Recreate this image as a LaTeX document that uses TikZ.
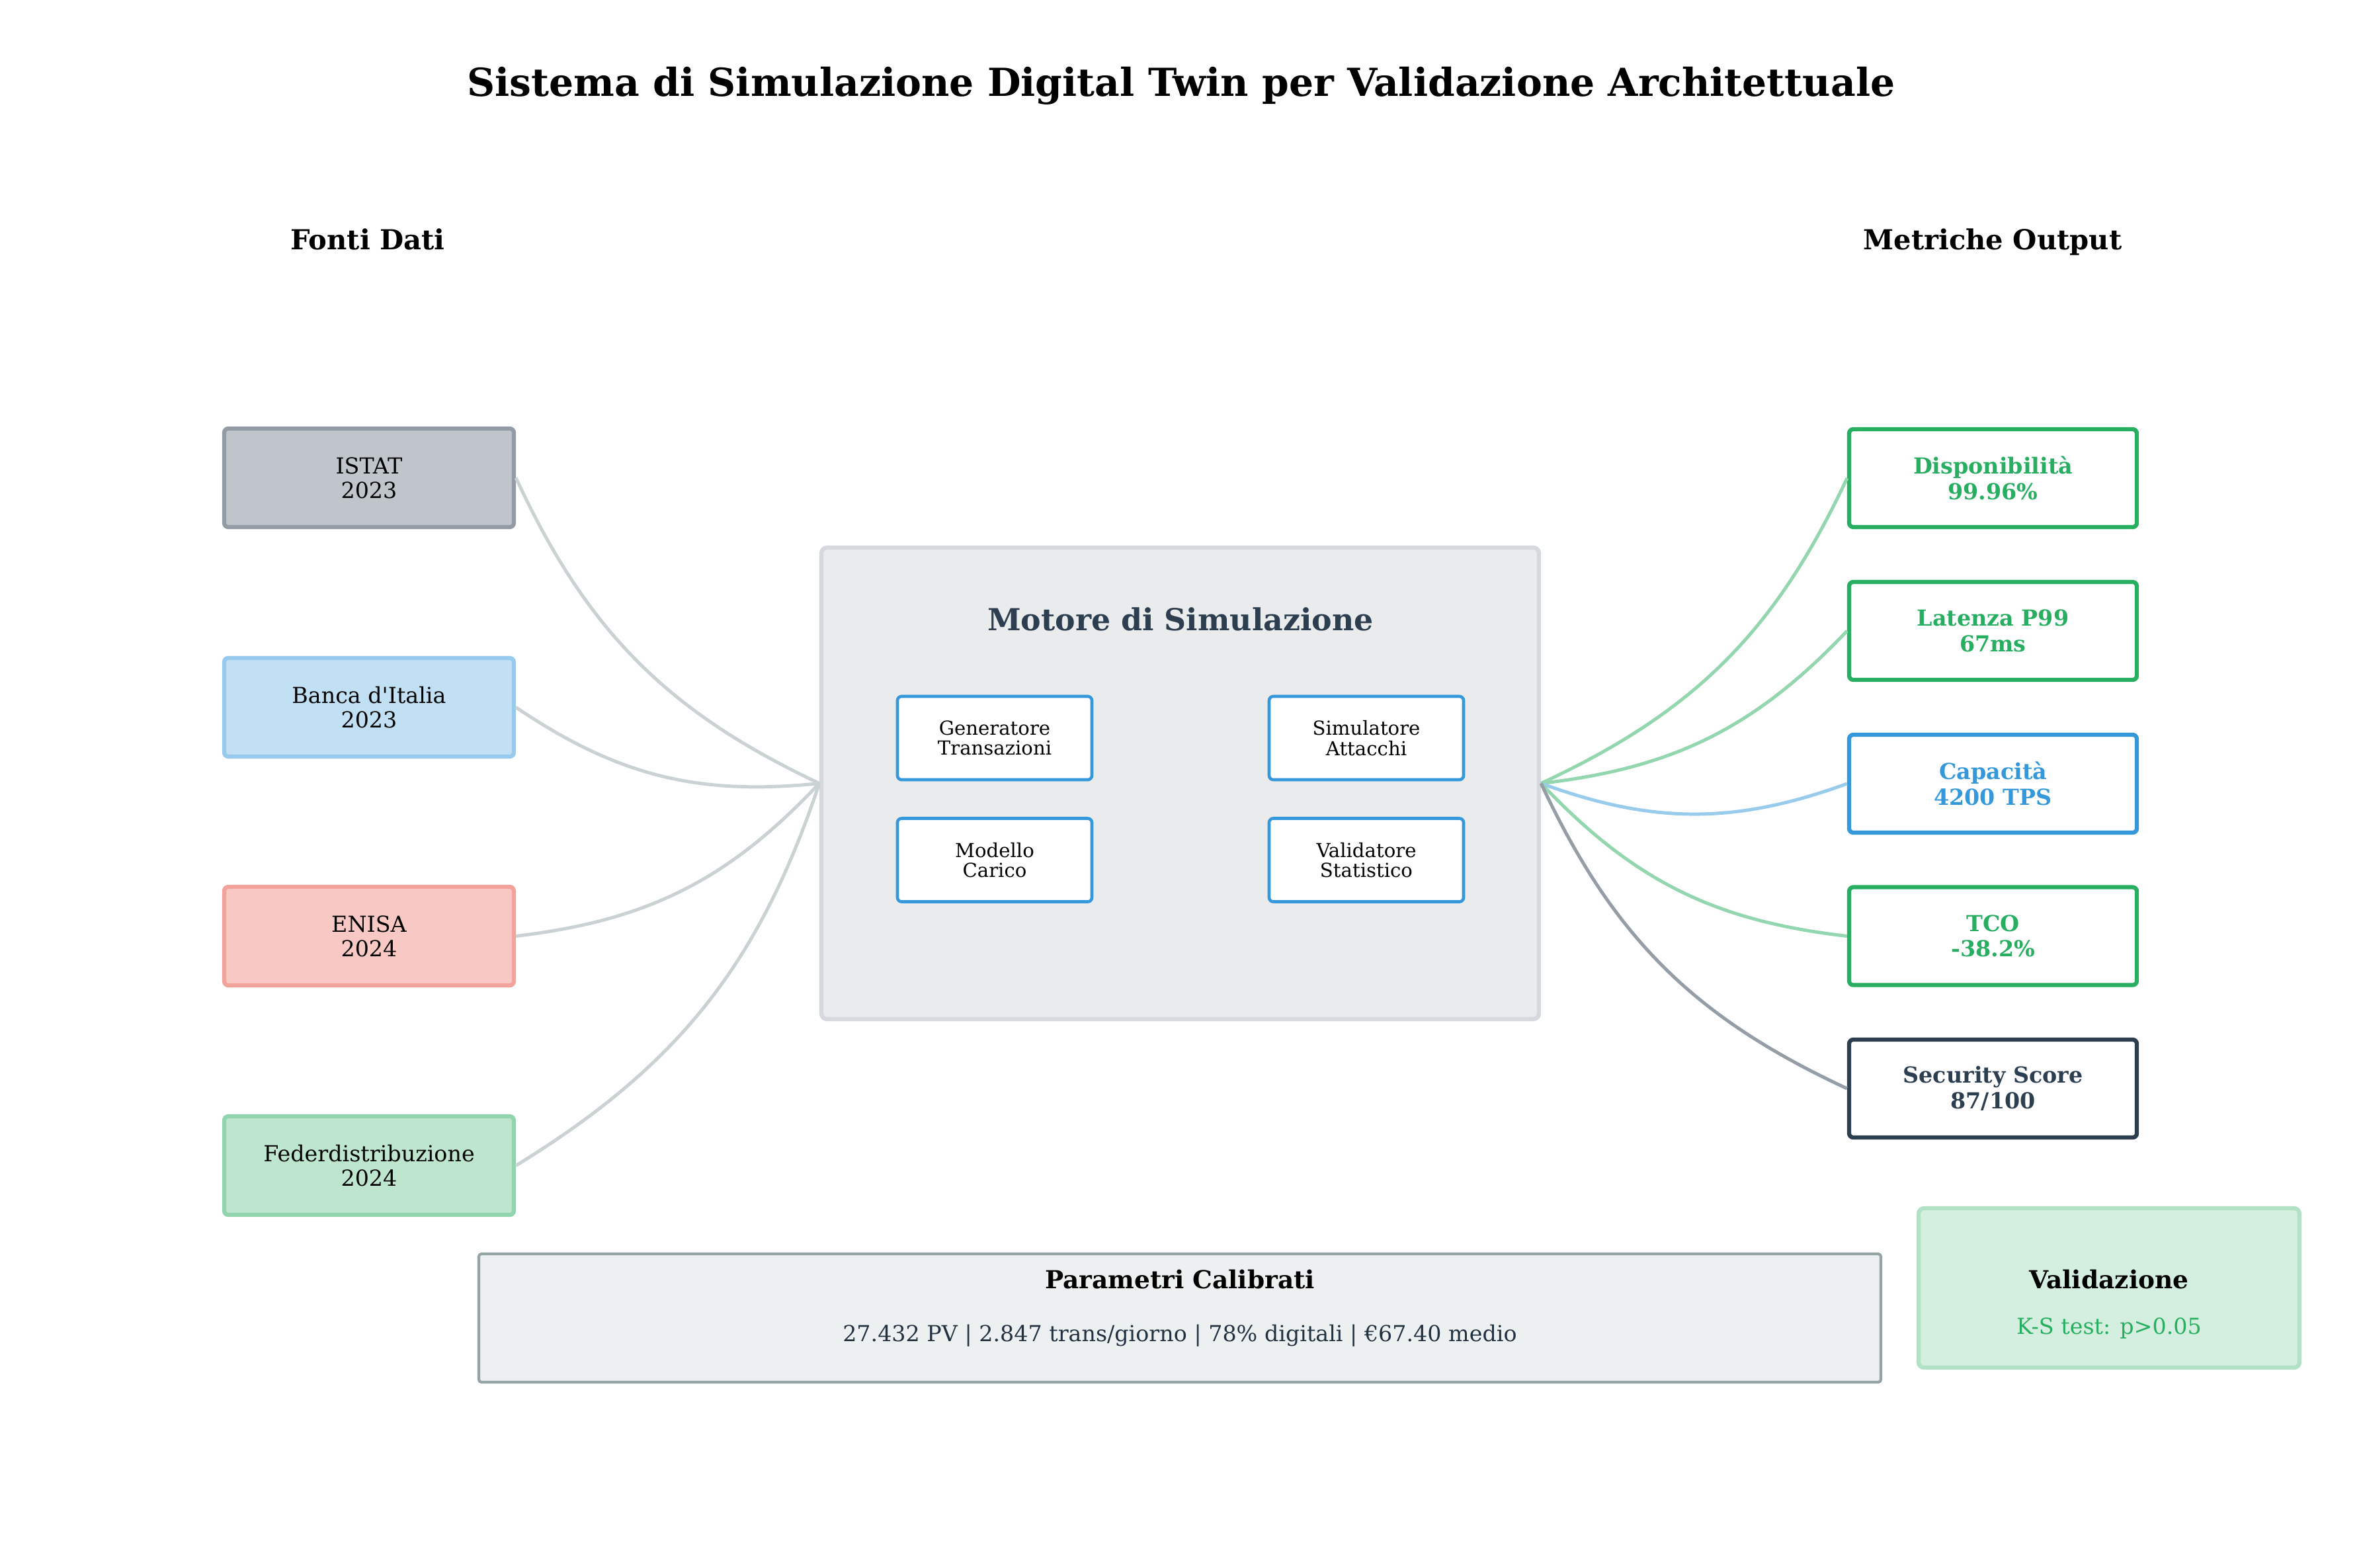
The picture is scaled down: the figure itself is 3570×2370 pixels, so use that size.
\documentclass[tikz,border=0pt]{standalone}
\usepackage{fontspec}
\setmainfont{DejaVu Serif}
\usepackage{tikz}

\definecolor{darkblue}{HTML}{2C3E50}
\definecolor{okgreen}{HTML}{27AE60}
\definecolor{engblue}{HTML}{3498DB}
\definecolor{istatfill}{HTML}{BFC5CA}
\definecolor{istatedge}{HTML}{939CA5}
\definecolor{bancafill}{HTML}{C2E0F4}
\definecolor{bancaedge}{HTML}{97CAEC}
\definecolor{enisafill}{HTML}{F8C9C4}
\definecolor{enisaedge}{HTML}{F3A39B}
\definecolor{federfill}{HTML}{BEE6CF}
\definecolor{federedge}{HTML}{91D5AE}
\definecolor{motorefill}{HTML}{E9EBED}
\definecolor{motoreedge}{HTML}{D5D8DC}
\definecolor{paramfill}{HTML}{ECF0F1}
\definecolor{paramedge}{HTML}{95A5A6}
\definecolor{validfill}{HTML}{D4EFDF}
\definecolor{validedge}{HTML}{B1E2C6}
\definecolor{inline}{HTML}{CAD2D3}
\definecolor{outgreen}{HTML}{93D6AF}
\definecolor{outblue}{HTML}{99CBED}
\definecolor{outdark}{HTML}{959EA7}

\begin{document}
\begin{tikzpicture}[x=0.24pt, y=-0.24pt,
    src/.style={draw, line width=1.5pt, rounded corners=1.5pt, inner sep=0pt,
        minimum width=438*\pxl, minimum height=149*\pxl, align=center,
        font=\fontsize{8}{8.9}\selectfont},
    eng/.style={draw=engblue, fill=white, line width=1.1pt, rounded corners=1.5pt, inner sep=0pt,
        minimum width=294*\pxl, minimum height=126*\pxl, align=center,
        font=\fontsize{7}{7.3}\selectfont},
    metric/.style={draw=#1, text=#1, fill=white, line width=1.5pt, rounded corners=1.5pt, inner sep=0pt,
        minimum width=435*\pxl, minimum height=148*\pxl, align=center,
        font=\bfseries\fontsize{8}{9.2}\selectfont},
    feed/.style={line width=1.2pt, draw=inline},
    result/.style={line width=1.2pt, draw=#1}]

    % Pixel size
    \def\pxl{0.24pt}

    \useasboundingbox (0,0) rectangle (3570,2370);

    % Title and column headings
    \node[anchor=base, font=\bfseries\fontsize{14}{17}\selectfont] (title) at (1786,145) {Sistema di Simulazione Digital Twin per Validazione Architettuale};
    \node[anchor=base, font=\bfseries\fontsize{10}{12}\selectfont] (fonti) at (556,377) {Fonti Dati};
    \node[anchor=base, font=\bfseries\fontsize{10}{12}\selectfont] (metriche) at (3013,377) {Metriche Output};

    % Data sources
    \node[src, draw=istatedge, fill=istatfill] (istat) at (558,722.5) {ISTAT\\2023};
    \node[src, draw=bancaedge, fill=bancafill] (banca) at (558,1069.5) {Banca d\textquotesingle Italia\\2023};
    \node[src, draw=enisaedge, fill=enisafill] (enisa) at (558,1415.5) {ENISA\\2024};
    \node[src, draw=federedge, fill=federfill] (feder) at (558,1762.5) {Federdistribuzione\\2024};

    % Simulation engine
    \node[draw=motoreedge, fill=motorefill, line width=1.5pt, rounded corners=2pt,
        minimum width=1085*\pxl, minimum height=713*\pxl] (motore) at (1784.5,1184.5) {};
    \node[anchor=base, text=darkblue, font=\bfseries\fontsize{11}{13}\selectfont] (motoretitle) at (1785,953) {Motore di Simulazione};
    \node[eng] (gen) at (1504,1116) {Generatore\\Transazioni};
    \node[eng] (sim) at (2066,1116) {Simulatore\\Attacchi};
    \node[eng] (mod) at (1504,1300.5) {Modello\\Carico};
    \node[eng] (stat) at (2066,1300.5) {Validatore\\Statistico};

    % Output metrics
    \node[metric=okgreen] (disp) at (3013.5,723) {Disponibilità\\99.96\%};
    \node[metric=okgreen] (lat) at (3013.5,954) {Latenza P99\\67ms};
    \node[metric=engblue] (cap) at (3013.5,1185) {Capacità\\4200 TPS};
    \node[metric=okgreen] (tco) at (3013.5,1415.5) {TCO\\-38.2\%};
    \node[metric=darkblue] (sec) at (3013.5,1646) {Security Score\\87/100};

    % Connections
    \draw[feed] (istat.east) to[bend right=20] (motore.west);
    \draw[feed] (banca.east) to[bend right=20] (motore.west);
    \draw[feed] (enisa.east) to[bend right=20] (motore.west);
    \draw[feed] (feder.east) to[bend right=20] (motore.west);
    \draw[result=outgreen] (motore.east) to[bend right=20] (disp.west);
    \draw[result=outgreen] (motore.east) to[bend right=20] (lat.west);
    \draw[result=outblue] (motore.east) to[bend right=20] (cap.west);
    \draw[result=outgreen] (motore.east) to[bend right=20] (tco.west);
    \draw[result=outdark] (motore.east) to[bend right=20] (sec.west);

    % Calibrated parameters
    \node[draw=paramedge, fill=paramfill, line width=1pt, rounded corners=1pt,
        minimum width=2120*\pxl, minimum height=194*\pxl] (param) at (1784,1993) {};
    \node[anchor=base, font=\bfseries\fontsize{9}{11}\selectfont] (paramtitle) at (1784,1948) {Parametri Calibrati};
    \node[anchor=base, text=darkblue!80!black, font=\fontsize{8}{10}\selectfont] (paramtext) at (1784,2028) {27.432 PV | 2.847 trans/giorno | 78\% digitali | €67.40 medio};

    % Validation
    \node[draw=validedge, fill=validfill, line width=1.5pt, rounded corners=2pt,
        minimum width=576*\pxl, minimum height=241*\pxl] (valid) at (3189,1947.5) {};
    \node[anchor=base, font=\bfseries\fontsize{9}{11}\selectfont] (validtitle) at (3189,1948) {Validazione};
    \node[anchor=base, text=okgreen, font=\fontsize{8}{10}\selectfont] (validtext) at (3189,2017) {K-S test: p>0.05};

\end{tikzpicture}
\end{document}
